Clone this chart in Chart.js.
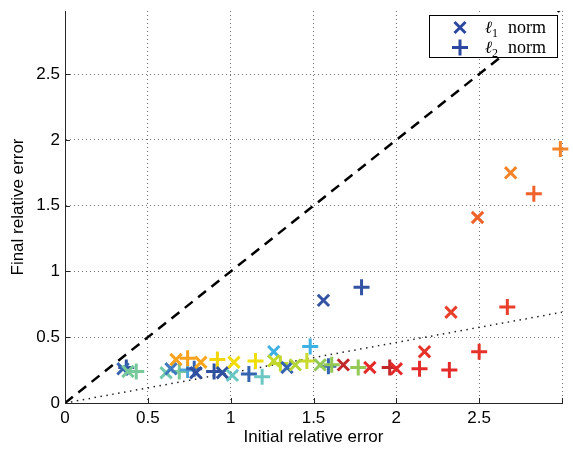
<!DOCTYPE html>
<html>
<head>
<meta charset="utf-8">
<script src="https://cdn.jsdelivr.net/npm/chart.js@4.4.0/dist/chart.umd.min.js"></script>
<style>
  html, body { margin: 0; padding: 0; background: #ffffff; }
  #wrap { width: 573px; height: 450px; }
</style>
</head>
<body>
<div id="wrap"><canvas id="errChart" width="573" height="450"></canvas></div>
<script>
// l1 norm runs (x markers)
const l1X = [0.35, 0.38, 0.61, 0.64, 0.67, 0.82, 0.79, 0.95, 1.01, 1.02, 1.26, 1.26,
             1.34, 1.39, 1.54, 1.56, 1.68, 1.84, 2.00, 2.17, 2.33, 2.49, 2.69];
const l1Y = [0.26, 0.24, 0.23, 0.26, 0.33, 0.31, 0.23, 0.23, 0.21, 0.31, 0.39, 0.32,
             0.27, 0.29, 0.29, 0.78, 0.29, 0.27, 0.26, 0.39, 0.69, 1.41, 1.75];
const l1Colors = ['#3565b0', '#77c99a', '#70c9ab', '#4079c0', '#f7a11c', '#f7a61e', '#2f4f9f', '#2f4f9f',
                  '#6bc7c4', '#f1dc0a', '#3eb1e4', '#c3d92a', '#3565b0', '#b2d535', '#92c955', '#3553a5',
                  '#c0282a', '#e42b2a', '#e42b2a', '#e63329', '#e8402a', '#ef6229', '#f4842a'];

// l2 norm runs (+ markers)
const l2X = [0.37, 0.43, 0.69, 0.74, 0.74, 0.78, 0.90, 0.92, 1.11, 1.15, 1.19, 1.30, 1.46,
             1.48, 1.59, 1.61, 1.77, 1.79, 1.96, 2.14, 2.32, 2.50, 2.67, 2.83, 2.99];
const l2Y = [0.27, 0.24, 0.24, 0.25, 0.34, 0.26, 0.24, 0.33, 0.22, 0.32, 0.20, 0.30, 0.32,
             0.43, 0.28, 0.29, 0.27, 0.88, 0.27, 0.26, 0.25, 0.39, 0.73, 1.59, 1.93];
const l2Colors = ['#2f4f9f', '#77c99a', '#77c99a', '#4ea3d8', '#f7a11c', '#3565b0', '#2f4f9f', '#f1d60a',
                  '#3565b0', '#eede0c', '#6bc7c4', '#c3d92a', '#c8da2a', '#3eb1e4', '#3565b0', '#92c955',
                  '#92c955', '#3553a5', '#c0282a', '#e42b2a', '#e42b2a', '#e63329', '#e8402a', '#ef6229',
                  '#f4842a'];

// reference lines
const refX = [0, 3];
const identityY = [0, 3];      // dashed, y = x
const dottedY = [0, 0.69];     // dotted

const xTicks = [0, 0.5, 1, 1.5, 2, 2.5, 3];
const yTicks = [0, 0.5, 1, 1.5, 2, 2.5];
const legendLabels = [
    { sub: '1', style: 'crossRot' },
    { sub: '2', style: 'cross' }
];

const toPoints = (xs, ys) => xs.map((x, i) => ({ x: x, y: ys[i] }));

// keep the plot box where the reference has it
const noEdgePadding = s => {
    s.paddingLeft = 0;
    s.paddingRight = 0;
    s.paddingTop = 0;
    s.paddingBottom = 0;
};

// MATLAB style inward tick marks
const innerTicks = {
    id: 'innerTicks',
    afterDraw(chart) {
        const { ctx, chartArea, scales } = chart;
        ctx.save();
        ctx.strokeStyle = '#262626';
        ctx.lineWidth = 1;
        ctx.beginPath();
        xTicks.forEach(v => {
            const px = Math.round(scales.x.getPixelForValue(v)) + 0.5;
            ctx.moveTo(px, chartArea.bottom);
            ctx.lineTo(px, chartArea.bottom - 5);
        });
        yTicks.forEach(v => {
            const py = Math.round(scales.y.getPixelForValue(v)) + 0.5;
            ctx.moveTo(chartArea.left, py);
            ctx.lineTo(chartArea.left + 5, py);
        });
        ctx.stroke();
        ctx.restore();
    }
};

// boxed legend in the top right corner
const legendBox = {
    id: 'legendBox',
    afterDraw(chart) {
        const ctx = chart.ctx;
        const x0 = 429.5, y0 = 15.5, w = 128, h = 42;
        ctx.save();
        ctx.fillStyle = '#ffffff';
        ctx.fillRect(x0, y0, w, h);
        ctx.strokeStyle = '#000000';
        ctx.lineWidth = 1;
        ctx.strokeRect(x0, y0, w, h);

        legendLabels.forEach((item, i) => {
            const cy = y0 + 12 + i * 20;
            const cx = 460;
            ctx.strokeStyle = '#2c47a0';
            ctx.lineWidth = 3;
            ctx.beginPath();
            if (item.style === 'crossRot') {
                ctx.moveTo(cx - 5.5, cy - 5.5); ctx.lineTo(cx + 5.5, cy + 5.5);
                ctx.moveTo(cx - 5.5, cy + 5.5); ctx.lineTo(cx + 5.5, cy - 5.5);
            } else {
                ctx.moveTo(cx - 8, cy); ctx.lineTo(cx + 8, cy);
                ctx.moveTo(cx, cy - 8); ctx.lineTo(cx, cy + 8);
            }
            ctx.stroke();

            const base = cy + 5;
            ctx.fillStyle = '#000000';
            ctx.textBaseline = 'alphabetic';
            ctx.font = 'italic 17px "DejaVu Serif"';
            ctx.fillText('\u2113', 485, base);
            const lw = ctx.measureText('\u2113').width;
            ctx.font = '12px "Liberation Serif"';
            ctx.fillText(item.sub, 485 + lw, base + 4);
            ctx.font = '18px "Liberation Serif"';
            ctx.fillText('norm', 508, base);
        });
        ctx.restore();
    }
};

const gridDots = {
    color: 'rgba(0, 0, 0, 0.55)',
    lineWidth: 1,
    drawTicks: false
};

new Chart(document.getElementById('errChart').getContext('2d'), {
    data: {
        datasets: [
            {
                type: 'scatter',
                label: 'l1 norm',
                data: toPoints(l1X, l1Y),
                pointStyle: 'crossRot',
                pointRadius: 8,
                pointBorderWidth: 3,
                pointBorderColor: l1Colors,
                pointBackgroundColor: l1Colors,
                clip: false,
                order: 1
            },
            {
                type: 'scatter',
                label: 'l2 norm',
                data: toPoints(l2X, l2Y),
                pointStyle: 'cross',
                pointRadius: 8,
                pointBorderWidth: 3,
                pointBorderColor: l2Colors,
                pointBackgroundColor: l2Colors,
                clip: false,
                order: 1
            },
            {
                type: 'line',
                data: toPoints(refX, identityY),
                borderColor: '#000000',
                borderWidth: 2.5,
                borderDash: [10, 7],
                pointRadius: 0,
                fill: false,
                order: 2
            },
            {
                type: 'line',
                data: toPoints(refX, dottedY),
                borderColor: '#222222',
                borderWidth: 1.5,
                borderDash: [1.5, 4.5],
                pointRadius: 0,
                fill: false,
                order: 2
            }
        ]
    },
    options: {
        responsive: false,
        animation: false,
        layout: { padding: { left: 0, right: 7, top: 8, bottom: 0 } },
        plugins: {
            legend: { display: false },
            tooltip: { enabled: false }
        },
        scales: {
            x: {
                type: 'linear',
                min: 0,
                max: 3,
                afterBuildTicks: s => { s.ticks = xTicks.map(v => ({ value: v })); },
                afterFit: s => { s.height = 47; noEdgePadding(s); },
                grid: gridDots,
                border: { display: true, color: '#262626', width: 1, dash: [1, 3] },
                ticks: {
                    padding: 5,
                    color: '#000000',
                    maxRotation: 0,
                    font: { family: '"Liberation Sans", Arial', size: 17 },
                    callback: v => (v === 3 ? '' : String(v))
                },
                title: {
                    display: true,
                    text: 'Initial relative error',
                    color: '#000000',
                    font: { family: '"Liberation Sans", Arial', size: 17 },
                    padding: { top: 0, bottom: 2 }
                }
            },
            y: {
                type: 'linear',
                min: 0,
                max: 2.98,
                afterBuildTicks: s => { s.ticks = yTicks.map(v => ({ value: v })); },
                afterFit: s => { s.width = 65; noEdgePadding(s); },
                grid: gridDots,
                border: { display: true, color: '#262626', width: 1, dash: [1, 3] },
                ticks: {
                    padding: 5,
                    color: '#000000',
                    font: { family: '"Liberation Sans", Arial', size: 17 },
                    callback: v => String(v)
                },
                title: {
                    display: true,
                    text: 'Final relative error',
                    color: '#000000',
                    font: { family: '"Liberation Sans", Arial', size: 17 },
                    padding: { top: 8, bottom: 0 }
                }
            }
        }
    },
    plugins: [innerTicks, legendBox]
});
</script>
</body>
</html>
